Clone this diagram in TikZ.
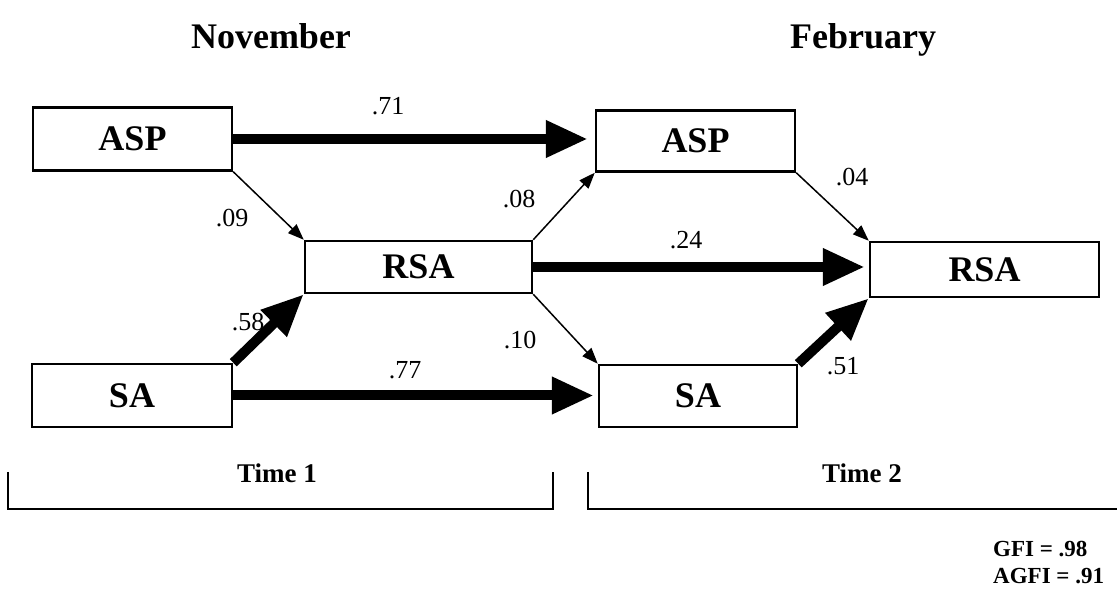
\documentclass[tikz,border=0pt]{standalone}
\usepackage{fontspec}
\setmainfont{Liberation Serif}
\usetikzlibrary{arrows.meta}
\begin{document}
\begin{tikzpicture}[x=1pt,y=-1pt,
  box/.style={draw, line width=2.5pt, inner sep=0pt, font=\bfseries\fontsize{36}{40}\selectfont},
  header/.style={font=\bfseries\fontsize{36}{40}\selectfont, inner sep=0pt},
  coef/.style={font=\fontsize{26}{30}\selectfont, inner sep=0pt},
  timelab/.style={font=\bfseries\fontsize{27}{30}\selectfont, inner sep=0pt},
  fitlab/.style={font=\bfseries\fontsize{23}{26}\selectfont, inner sep=0pt, anchor=base west},
  thickarrow/.style={line width=10pt, -{Triangle[length=42pt,width=35pt]}},
  thinarrow/.style={line width=1.5pt, -{Triangle[length=16pt,width=12pt]}},
  bracket/.style={line width=1.5pt}]
\useasboundingbox (0,0) rectangle (1117,593);
% headers
\node[header, anchor=base] (nov) at (271,49) {November};
\node[header, anchor=base] (feb) at (863,49) {February};
% boxes
\node[box, minimum width=199pt, minimum height=63pt] (aspL) at (132.5,139) {ASP};
\node[box, minimum width=227pt, minimum height=52pt] (rsaM) at (418.5,267) {RSA};
\node[box, minimum width=200pt, minimum height=63pt] (saL) at (132,395.5) {SA};
\node[box, minimum width=199pt, minimum height=61pt] (aspR) at (695.5,141) {ASP};
\node[box, minimum width=198pt, minimum height=62pt] (saR) at (698,396) {SA};
\node[box, minimum width=229pt, minimum height=55pt] (rsaR) at (984.5,269.5) {RSA};
% thick arrows
\draw[thickarrow, shorten >=7pt] (aspL.east) -- (aspL.east -| aspR.west);
\draw[thickarrow, shorten >=4pt] (rsaM.east) -- (rsaM.east -| rsaR.west);
\draw[thickarrow, shorten >=4pt] (saL.east) -- (saL.east -| saR.west);
\draw[thickarrow] (saL.north east) -- (rsaM.south west);
\draw[thickarrow] (saR.north east) -- (rsaR.south west);
% thin arrows
\draw[thinarrow] (aspL.south east) -- (rsaM.north west);
\draw[thinarrow] (rsaM.north east) -- (aspR.south west);
\draw[thinarrow] (rsaM.south east) -- (saR.north west);
\draw[thinarrow] (aspR.south east) -- (rsaR.north west);
% coefficients
\node[coef] (c71) at (388,106) {.71};
\node[coef] (c09) at (232,218) {.09};
\node[coef] (c08) at (519,199) {.08};
\node[coef] (c04) at (852,177) {.04};
\node[coef] (c24) at (686,240) {.24};
\node[coef] (c58) at (248,322) {.58};
\node[coef] (c10) at (520,340) {.10};
\node[coef] (c77) at (405,370) {.77};
\node[coef] (c51) at (843,366) {.51};
% time brackets
\draw[bracket] (8,472) -- (8,509) -- (553,509) -- (553,472);
\draw[bracket] (588,472) -- (588,509) -- (1117,509);
\node[timelab] (t1) at (277,473) {Time 1};
\node[timelab] (t2) at (862,473) {Time 2};
% fit indices
\node[fitlab] (gfi) at (993,556) {GFI = .98};
\node[fitlab] (agfi) at (993,583) {AGFI = .91};
\end{tikzpicture}
\end{document}
